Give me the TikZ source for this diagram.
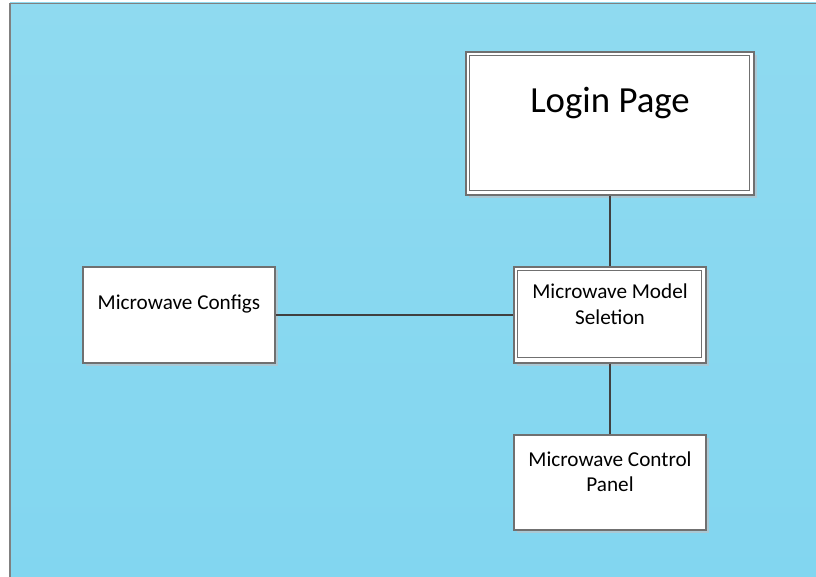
\documentclass[tikz,border=0pt]{standalone}
\usepackage{fontspec}
\setmainfont{Carlito}
\usetikzlibrary{shadows,calc}
\definecolor{bgtop}{RGB}{143,218,240}
\definecolor{bgbot}{RGB}{130,214,240}
\definecolor{boxline}{RGB}{112,112,112}
\definecolor{linkc}{RGB}{64,64,64}
\definecolor{shadowc}{RGB}{170,200,212}
\definecolor{frame}{RGB}{128,128,128}
\tikzset{
  screen/.style={draw=boxline, line width=1.2pt, fill=white, inner sep=0pt,
    drop shadow={shadow xshift=3pt, shadow yshift=-3pt, fill=shadowc, opacity=1}},
  innerframe/.style={draw=boxline, line width=1.1pt},
  link/.style={draw=linkc, line width=2.6pt},
  caption/.style={align=center, inner sep=0pt, font=\fontsize{21.2}{25.5}\selectfont}
}
\begin{document}
\begin{tikzpicture}[x=1pt, y=-1pt]
\useasboundingbox (0,0) rectangle (816,577);
% page background
\shade[top color=bgtop, bottom color=bgbot] (10,3) rectangle (818,579);
\draw[frame, line width=1.4pt] (10,579) -- (10,3.5) -- (818,3.5);

% screens
\node[screen, minimum width=288pt, minimum height=143pt] (login) at (610,123.5) {};
\draw[innerframe] ([shift={(4.5,4.5)}]login.north west) rectangle ([shift={(-5,-5.5)}]login.south east);
\node[caption, font=\fontsize{36.8}{40}\selectfont] (logint) at (610,103) {Login Page};

\node[screen, minimum width=192pt, minimum height=96pt] (model) at (610,315) {};
\draw[innerframe] ([shift={(4,4)}]model.north west) rectangle ([shift={(-5,-6)}]model.south east);
\node[caption] (modelt) at (610,304) {Microwave Model\\Seletion};

\node[screen, minimum width=192pt, minimum height=96pt] (configs) at (179,315) {};
\node[caption] (configst) at (179,303.5) {Microwave Configs};

\node[screen, minimum width=192pt, minimum height=95pt] (control) at (610,482.5) {};
\node[caption] (controlt) at (610,471.5) {Microwave Control\\Panel};

% connectors
\draw[link] (login.south) -- (model.north);
\draw[link] (configs.east) -- (model.west);
\draw[link] (model.south) -- (control.north);
\end{tikzpicture}
\end{document}
